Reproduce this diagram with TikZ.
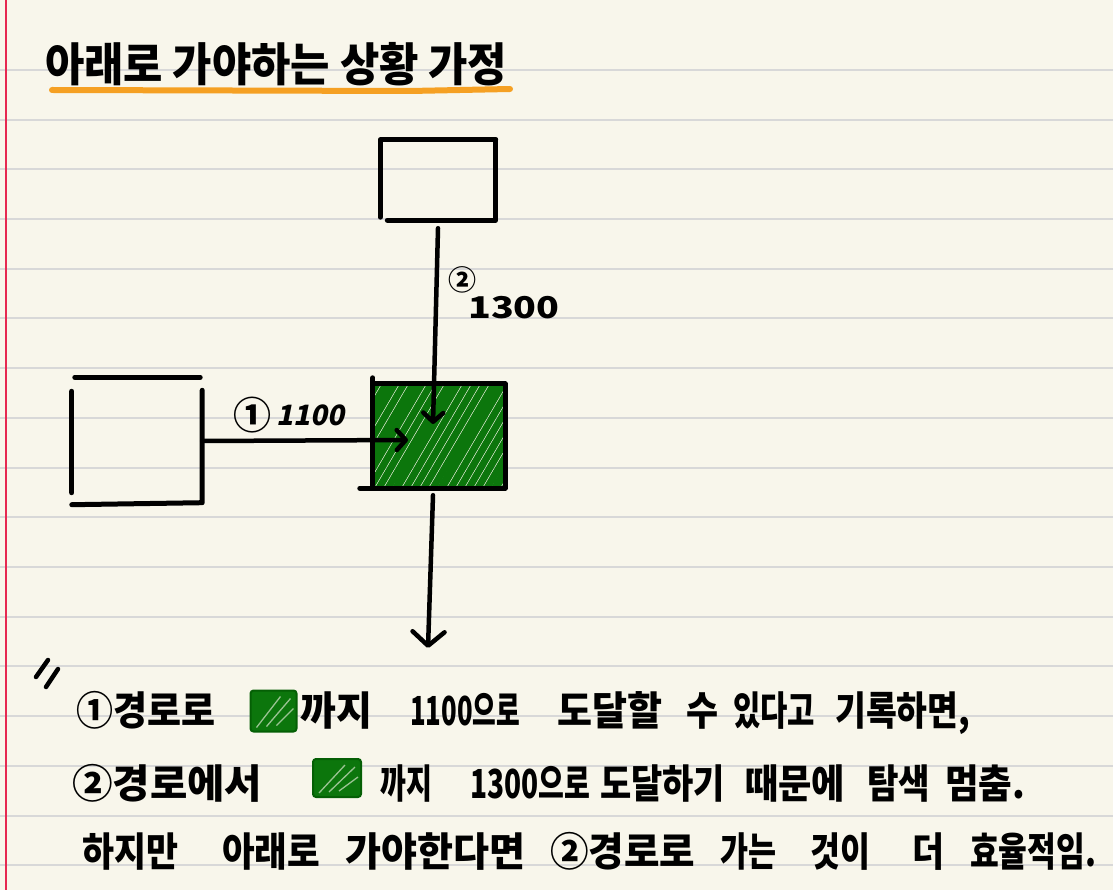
\documentclass[tikz,border=0pt]{standalone}
\usepackage{fontspec}
\usetikzlibrary{arrows.meta}
\newfontfamily\kr{Noto Sans CJK KR}
\newfontfamily\krsl{Noto Sans CJK KR}[FakeSlant=0.2]
\definecolor{paper}{RGB}{248,246,235}
\definecolor{ruleline}{RGB}{216,216,216}
\definecolor{marginred}{RGB}{230,40,80}
\definecolor{hl}{RGB}{245,160,35}
\definecolor{leaf}{RGB}{12,118,12}
\definecolor{leafdark}{RGB}{5,95,5}
\newcommand\fw[2]{\resizebox{#1pt}{\height}{#2}}
\tikzset{
  pen/.style={line width=5pt, line cap=round, line join=round},
  boxnode/.style={inner sep=0pt},
  arr/.style={line width=4.5pt, line cap=round, -{Straight Barb[length=9pt,width=20pt,round]}},
  bigarr/.style={line width=4.5pt, line cap=round, -{Straight Barb[length=14pt,width=32pt,round]}},
  word/.style={anchor=base west, inner sep=0pt, font=\kr\bfseries\fontsize{40}{40}\selectfont},
  gsq/.style={draw=leafdark, fill=leaf, rounded corners=3pt, line width=2pt, inner sep=0pt,
    path picture={\draw[paper!60!leaf, line width=1.3pt]
      ([xshift=6pt,yshift=4pt]path picture bounding box.south west) -- ([xshift=-16pt,yshift=-6pt]path picture bounding box.north east)
      ([xshift=16pt,yshift=5pt]path picture bounding box.south west) -- ([xshift=-6pt,yshift=-8pt]path picture bounding box.north east)
      ([xshift=26pt,yshift=6pt]path picture bounding box.south west) -- ([xshift=-3pt,yshift=-18pt]path picture bounding box.north east);}}
}
\begin{document}
\begin{tikzpicture}[x=1pt,y=-1pt]
\fill[paper] (0,0) rectangle (1113,890);
\useasboundingbox (0,0) rectangle (1113,890);
\foreach \i in {0,...,16} \draw[ruleline, line width=2pt] (0,{70+49.7*\i}) -- (1113,{70+49.7*\i});
\draw[marginred, line width=2pt] (6,0) -- (6,890);

% title
\node[anchor=base west, inner sep=0pt, font=\kr\bfseries\fontsize{46}{46}\selectfont] (title) at (45,82) {\fw{462}{아래로 가야하는 상황 가정}};
\draw[hl, line width=6pt, line cap=round] (52,90) -- (410,91) -- (510,89);

% boxes
\node[boxnode, minimum width=115pt, minimum height=80pt] (top) at (438,180) {};
\node[boxnode, minimum width=130pt, minimum height=127pt] (left) at (137,441) {};
\node[boxnode, minimum width=132pt, minimum height=104pt] (mid) at (439,436) {};

% hand-drawn sides of the top box
\draw[pen] (top.north east) -- (top.north west) -- ([yshift=3pt]top.south west);
\draw[pen] ([xshift=7pt]top.south west) -- (top.south east) -- (top.north east);
% hand-drawn sides of the left box
\draw[pen] ([xshift=3pt]left.north west) -- ([xshift=-2pt]left.north east);
\draw[pen] ([yshift=-14pt]left.north west) -- ([yshift=12pt]left.south west);
\draw[pen] (left.south west) -- ([yshift=2pt]left.south east) -- ([yshift=-13pt]left.north east);

% green hatch
\begin{scope}
\clip ([xshift=2pt,yshift=-2pt]mid.north west) rectangle ([xshift=-2pt,yshift=2pt]mid.south east);
\foreach \k in {0,...,26} \draw[leaf, line width=7pt, line cap=round] ({300+\k*9},500) -- ({375+\k*9},372);
\foreach \k in {0,3,7,12,18} \draw[leaf, line width=4pt, line cap=round] ({330+\k*9},490) -- ({392+\k*9},380);
\end{scope}
\draw[pen] ([yshift=6pt]mid.north west) -- (mid.south west);
\draw[pen] ([xshift=-13pt]mid.south west) -- (mid.south east) -- (mid.north east) -- (mid.north west);

% connectors
\coordinate (hit2) at (433,424);
\coordinate (hit1) at (408,440);
\coordinate (down) at (428,648);
\draw[arr] ([yshift=-8pt]top.south) -- (hit2);
\draw[arr] (left.east) -- (hit1);
\draw[bigarr] ([xshift=-6pt,yshift=-7pt]mid.south) -- (down);

% labels
\node[inner sep=0pt, font=\kr\bfseries\fontsize{38}{38}\selectfont] (c1) at (252,415) {①};
\node[anchor=west, inner sep=0pt, font=\krsl\bfseries\fontsize{28}{28}\selectfont] (n1) at (276,415) {1100};
\node[inner sep=0pt, font=\kr\bfseries\fontsize{28}{28}\selectfont] (c2) at (462,280) {②};
\node[anchor=west, inner sep=0pt, font=\kr\bfseries\fontsize{30}{30}\selectfont] (n2) at (468,308) {\scalebox{1.25}[1]{1300}};

% ditto mark
\draw[pen, line width=4.5pt] (48,660) -- (36,677);
\draw[pen, line width=4.5pt] (58,669) -- (46,687);

% line 1
\node[word] (a1) at (76,725) {\fw{139}{①경로로}};
\node[gsq, minimum width=46pt, minimum height=41pt] (g1) at (273.5,711) {};
\node[word] (a2) at (300,725) {\fw{72}{까지}};
\node[word] (a3) at (410,725) {\fw{110}{1100으로}};
\node[word] (a4) at (557,725) {\fw{105}{도달할}};
\node[word] (a5) at (686,725) {\fw{32}{수}};
\node[word] (a6) at (733,725) {\fw{82}{있다고}};
\node[word] (a7) at (835,725) {\fw{135}{기록하면,}};

% line 2
\node[word] (b1) at (72,798) {\fw{190}{②경로에서}};
\node[gsq, minimum width=48pt, minimum height=38pt] (g2) at (337,778) {};
\node[word] (b2) at (380,798) {\fw{52}{까지}};
\node[word] (b3) at (470,798) {\fw{120}{1300으로}};
\node[word] (b4) at (600,798) {\fw{125}{도달하기}};
\node[word] (b5) at (745,798) {\fw{100}{때문에}};
\node[word] (b6) at (867,798) {\fw{63}{탐색}};
\node[word] (b7) at (945,798) {\fw{80}{멈춤.}};

% line 3
\node[word] (c1l) at (82,866) {\fw{96}{하지만}};
\node[word] (c2l) at (222,866) {\fw{98}{아래로}};
\node[word] (c3l) at (345,866) {\fw{180}{가야한다면}};
\node[word] (c4l) at (550,866) {\fw{145}{②경로로}};
\node[word] (c5l) at (720,866) {\fw{56}{가는}};
\node[word] (c6l) at (810,866) {\fw{60}{것이}};
\node[word] (c7l) at (912,866) {\fw{32}{더}};
\node[word] (c8l) at (970,866) {\fw{126}{효율적임.}};
\end{tikzpicture}
\end{document}
